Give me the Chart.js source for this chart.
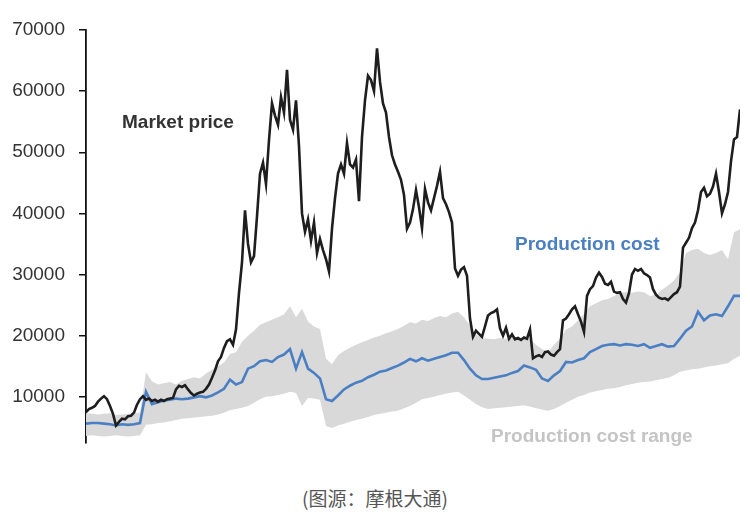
<!DOCTYPE html>
<html>
<head>
<meta charset="utf-8">
<script src="https://cdn.jsdelivr.net/npm/chart.js@4.4.0/dist/chart.umd.min.js"></script>
<style>
  body { margin: 0; background: #fff; width: 750px; height: 518px; overflow: hidden; }
  #wrap { position: absolute; left: 0; top: 0; width: 750px; height: 468px; }
  #caption { position: absolute; left: 0; top: 484px; width: 750px; text-align: center;
    font: 19px "Noto Sans CJK SC", sans-serif; color: #555; }
</style>
</head>
<body>
<div id="wrap"><canvas id="graph"></canvas></div>
<div id="caption">(图源：摩根大通)</div>
<script>
// Weekly market price (week 0 = start of the series)
const marketPrice = [
  7500, 8000, 8200, 8500, 9200, 9700, 10100, 9600, 8500, 7200,
  5300, 5900, 6400, 6300, 6800, 6900, 7400, 8700, 9600, 10100,
  9500, 9700, 9300, 9500, 9200, 9500, 9300, 9600, 9700, 9800,
  11200, 11800, 11600, 11900, 11200, 10600, 10200, 10500, 10700, 10800,
  11300, 12000, 13100, 14300, 15800, 16500, 18000, 19100, 19400, 18500,
  21000, 27000, 32000, 40500, 35000, 32000, 33000, 39500, 46500, 48300,
  44800, 52000, 58000, 56000, 54500, 59000, 56500, 63500, 55300, 53700,
  58500, 51000, 40000, 37000, 39000, 35500, 38500, 33500, 35800, 34000,
  32500, 30500, 37500, 42500, 46500, 48000, 46500, 51500, 48000, 47500,
  48800, 42000, 52500, 58500, 62500, 61800, 60000, 67000, 61500, 58000,
  56500, 52500, 49500, 48000, 46800, 45500, 43000, 37500, 38500, 40700,
  43800, 41000, 37600, 44000, 41800, 40500, 42500, 44500, 46800, 42500,
  41500, 40200, 38500, 31000, 29800, 30800, 31200, 29800, 22800, 19800,
  20800, 20300, 19800, 21500, 23300, 23700, 23900, 24300, 21200, 20000,
  21300, 19500, 20200, 19400, 19600, 19300, 19700, 19500, 21000, 16300,
  16600, 16800, 16500, 17300, 17400, 16900, 16700, 17300, 17800, 22500,
  22800, 23500, 24300, 24800, 23500, 22300, 20600, 26500, 27600, 28100,
  29500, 30300, 29600, 28500, 28300, 28800, 27200, 27000, 27100, 26000,
  25400, 27000, 30000, 30900, 30600, 30900, 30200, 29900, 29500, 27600,
  26700, 26200, 26000, 26100, 25800, 26300, 26800, 27100, 28000, 34400,
  35200, 36000, 37600, 38500, 40500, 43500, 44200, 42800, 43200, 44400,
  46500, 43500, 40000, 41500, 43500, 48500, 52100, 52500, 57000
];

// Production cost, one value every 2 weeks
const productionCost = [
  5600, 5700, 5700, 5600, 5500, 5300, 5500, 5400, 5500, 5700,
  10800, 8800, 9100, 9400, 9500, 9700, 9600, 9700, 9900, 10100,
  9900, 10200, 10700, 11300, 12800, 12000, 12400, 14600, 15000, 15800,
  16000, 15700, 16500, 16900, 17800, 14600, 17300, 14600, 13900, 13000,
  9600, 9300, 10200, 11200, 11800, 12300, 12600, 13200, 13600, 14100,
  14300, 14700, 15100, 15600, 16200, 15800, 16300, 15900, 16200, 16500,
  16800, 17200, 17200, 16000, 14600, 13500, 12900, 12900, 13100, 13300,
  13500, 13900, 14200, 15100, 14800, 14400, 13000, 12600, 13500, 14200,
  15700, 15600, 16000, 16300, 17300, 17800, 18300, 18500, 18600, 18400,
  18600, 18500, 18300, 18600, 18000, 18300, 18600, 18200, 18300, 19500,
  20800, 21500, 23900, 22500, 23300, 23500, 23200, 24800, 26500, 26500
];

// Production cost range, upper and lower edge, every 2 weeks
const costHigh = [
  7300, 7200, 7100, 7200, 7300, 7000, 7100, 7200, 7300, 7400,
  14000, 12500, 12000, 12200, 12400, 12000, 12600, 12900, 13200, 13000,
  13800, 14400, 15000, 15600, 17000, 17300, 19000, 20000, 20800, 21800,
  22200, 22600, 23000, 23500, 24800, 23000, 24400, 22300, 21500, 21100,
  16200, 15300, 16800, 17500, 18000, 18500, 18900, 19300, 19700, 20000,
  20400, 20700, 21100, 21600, 22200, 22000, 22600, 22400, 22900, 23200,
  23000, 23600, 23900, 23000, 21600, 20200, 19600, 19500, 19400, 19600,
  19500, 19700, 19500, 19800, 19500, 18500, 17800, 17300, 18500, 19500,
  21000, 21500, 22500, 23500, 24800, 25300, 25800, 26000, 26500, 27000,
  27100, 27000, 27200, 27100, 26500, 26700, 27500, 28200, 29000, 30400,
  33500, 34000, 34200, 33500, 33200, 33500, 34000, 32500, 36900, 37400
];
const costLow = [
  3600, 3700, 3600, 3500, 3600, 3700, 3600, 3500, 3600, 3700,
  5400, 5500, 5700, 5800, 6000, 6200, 6400, 6500, 6600, 6700,
  6800, 6900, 7100, 7400, 7800, 8000, 8200, 8500, 9000, 9600,
  10000, 10100, 10300, 10500, 10800, 10600, 8500, 9800, 9700, 9500,
  5200, 4900, 5300, 5600, 5900, 6200, 6400, 6700, 7000, 7200,
  7400, 7600, 7700, 8100, 8500, 9000, 9600, 9800, 10000, 10300,
  10500, 10700, 10800, 10200, 9500, 8800, 8300, 8000, 8100, 8200,
  8300, 8400, 8500, 8600, 8400, 8100, 7900, 7700, 8000, 8500,
  9000, 9500, 10000, 10300, 10700, 10900, 11100, 11300, 11400, 11600,
  11900, 12100, 12300, 12400, 12500, 12700, 12900, 13100, 13500, 14100,
  14300, 14500, 14600, 14800, 15000, 15100, 15300, 15500, 16200, 16700
];

const yTicks = [10000, 20000, 30000, 40000, 50000, 60000, 70000];

// Text labels placed in data units (week, value)
const notes = [
  { text: 'Market price', week: 12, value: 54800, color: '#333333' },
  { text: 'Production cost', week: 143, value: 34900, color: '#4a7fc4' },
  { text: 'Production cost range', week: 135, value: 3500, color: '#c4c4c4' }
];

const weekly = marketPrice.map((v, i) => ({ x: i, y: v }));
const biweekly = arr => arr.map((v, i) => ({ x: i * 2, y: v }));

const notesPlugin = {
  id: 'notes',
  afterDatasetsDraw(chart) {
    const { ctx, scales } = chart;
    ctx.save();
    ctx.font = 'bold 19px "Liberation Sans", Arial, sans-serif';
    ctx.textBaseline = 'middle';
    notes.forEach(n => {
      ctx.fillStyle = n.color;
      ctx.fillText(n.text, scales.x.getPixelForValue(n.week), scales.y.getPixelForValue(n.value));
    });
    ctx.restore();
  }
};

const ctx = document.getElementById('graph').getContext('2d');
new Chart(ctx, {
  type: 'line',
  data: {
    datasets: [
      {
        label: 'Market price',
        data: weekly,
        borderColor: '#1e1e1e',
        borderWidth: 2.6,
        pointRadius: 0,
        tension: 0,
        order: 0
      },
      {
        label: 'Production cost',
        data: biweekly(productionCost),
        borderColor: '#4a7fc4',
        borderWidth: 2.6,
        pointRadius: 0,
        order: 1
      },
      {
        label: 'Range low',
        data: biweekly(costLow),
        borderWidth: 0,
        pointRadius: 0,
        fill: false,
        order: 3
      },
      {
        label: 'Range high',
        data: biweekly(costHigh),
        borderWidth: 0,
        pointRadius: 0,
        backgroundColor: '#d9d9d9',
        fill: '-1',
        order: 2
      }
    ]
  },
  options: {
    responsive: true,
    maintainAspectRatio: false,
    animation: false,
    layout: { padding: { top: 30, left: 0, right: 10, bottom: 0 } },
    scales: {
      x: {
        type: 'linear',
        min: 0,
        max: 218,
        display: false
      },
      y: {
        min: 2500,
        max: 70000,
        afterBuildTicks: axis => { axis.ticks = yTicks.map(v => ({ value: v })); },
        afterFit: axis => { axis.width = 86; },
        ticks: {
          color: '#333',
          padding: 14,
          callback: v => String(v),
          font: { family: '"Liberation Sans", Arial, sans-serif', size: 19 }
        },
        grid: { drawOnChartArea: false, color: '#111', lineWidth: 1.5, tickLength: 7 },
        border: { color: '#111', width: 1.8 }
      }
    },
    plugins: {
      legend: { display: false },
      tooltip: { enabled: false }
    }
  },
  plugins: [notesPlugin]
});
</script>
</body>
</html>
